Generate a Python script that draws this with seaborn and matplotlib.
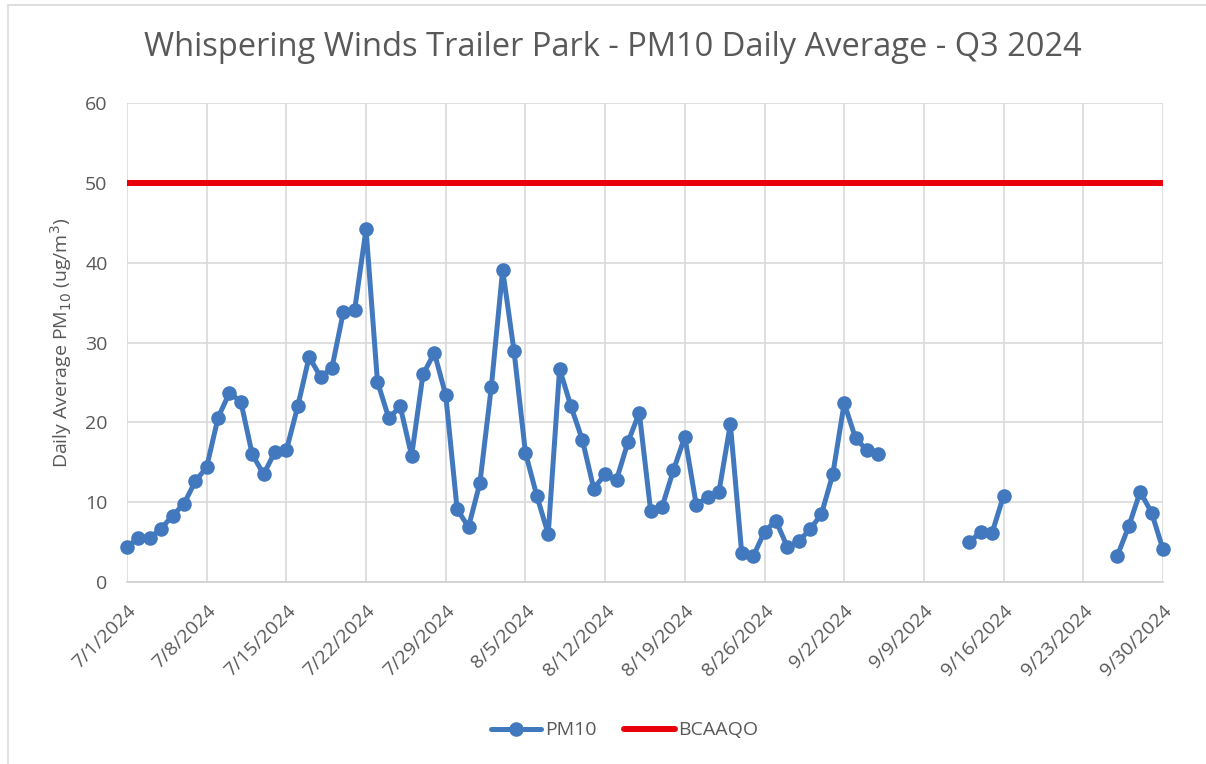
import pandas as pd
import numpy as np
import matplotlib.pyplot as plt
import matplotlib.dates as mdates
import seaborn as sns
from matplotlib.lines import Line2D
from matplotlib.patches import Rectangle

# --- data ---
dates = ['2024-07-01', '2024-07-02', '2024-07-03', '2024-07-04', '2024-07-05', '2024-07-06',
         '2024-07-07', '2024-07-08', '2024-07-09', '2024-07-10', '2024-07-11', '2024-07-12',
         '2024-07-13', '2024-07-14', '2024-07-15', '2024-07-16', '2024-07-17', '2024-07-18',
         '2024-07-19', '2024-07-20', '2024-07-21', '2024-07-22', '2024-07-23', '2024-07-24',
         '2024-07-25', '2024-07-26', '2024-07-27', '2024-07-28', '2024-07-29', '2024-07-30',
         '2024-07-31', '2024-08-01', '2024-08-02', '2024-08-03', '2024-08-04', '2024-08-05',
         '2024-08-06', '2024-08-07', '2024-08-08', '2024-08-09', '2024-08-10', '2024-08-11',
         '2024-08-12', '2024-08-13', '2024-08-14', '2024-08-15', '2024-08-16', '2024-08-17',
         '2024-08-18', '2024-08-19', '2024-08-20', '2024-08-21', '2024-08-22', '2024-08-23',
         '2024-08-24', '2024-08-25', '2024-08-26', '2024-08-27', '2024-08-28', '2024-08-29',
         '2024-08-30', '2024-08-31', '2024-09-01', '2024-09-02', '2024-09-03', '2024-09-04',
         '2024-09-05',
         '2024-09-13', '2024-09-14', '2024-09-15', '2024-09-16',
         '2024-09-26', '2024-09-27', '2024-09-28', '2024-09-29', '2024-09-30']
pm10 = [4.4, 5.5, 5.5, 6.7, 8.3, 9.8,
        12.6, 14.4, 20.6, 23.7, 22.6, 16.0,
        13.5, 16.3, 16.5, 22.0, 28.2, 25.7,
        26.8, 33.8, 34.1, 44.2, 25.1, 20.5,
        22.0, 15.8, 26.0, 28.7, 23.4, 9.1,
        6.9, 12.4, 24.4, 39.1, 28.9, 16.2,
        10.8, 6.0, 26.7, 22.0, 17.8, 11.7,
        13.5, 12.8, 17.5, 21.2, 8.9, 9.4,
        14.0, 18.2, 9.7, 10.6, 11.3, 19.8,
        3.6, 3.2, 6.3, 7.7, 4.4, 5.1,
        6.6, 8.5, 13.5, 22.4, 18.0, 16.5,
        16.0,
        5.0, 6.3, 6.2, 10.8,
        3.3, 7.0, 11.3, 8.7, 4.1]
objective_dates = ['2024-07-01', '2024-09-30']
objective_values = [50, 50]
tick_dates = pd.date_range('2024-07-01', '2024-09-30', freq='7D')

df = pd.DataFrame({'Date': pd.to_datetime(dates), 'PM10': pm10})
# break the line where days are missing
df['segment'] = (df['Date'].diff().dt.days.fillna(1) > 1).cumsum()
obj = pd.DataFrame({'Date': pd.to_datetime(objective_dates), 'BCAAQO': objective_values})

sns.set_style('white')
plt.rcParams['font.family'] = ['Open Sans', 'DejaVu Sans']
grey = '#595959'
blue = '#4279BE'
red = '#E8000B'

fig = plt.figure(figsize=(12.06, 7.64), dpi=100)
ax = fig.add_axes([0.1053, 0.2382, 0.8590, 0.6270])

sns.lineplot(data=obj, x='Date', y='BCAAQO', color=red, linewidth=4.3, ax=ax,
             legend=False, zorder=2)
sns.lineplot(data=df, x='Date', y='PM10', units='segment', estimator=None, color=blue,
             linewidth=3.6, marker='o', markersize=10.5, markeredgewidth=0, ax=ax,
             legend=False, zorder=3, clip_on=False)

ax.set_xlim(pd.Timestamp('2024-07-01'), pd.Timestamp('2024-09-30'))
ax.set_ylim(0, 60)
ax.set_yticks(range(0, 61, 10))
ax.set_xticks(tick_dates)
ax.set_xticklabels([f'{d.month}/{d.day}/{d.year}' for d in tick_dates],
                   rotation=45, ha='right', rotation_mode='anchor')
ax.grid(True, color='#D9D9D9', linewidth=1.2)
for s in ['top', 'right', 'left']:
    ax.spines[s].set_visible(False)
ax.spines['bottom'].set_color('#D0D0D0')
ax.spines['bottom'].set_linewidth(1.2)
ax.tick_params(axis='both', length=0, labelsize=14, labelcolor=grey)
ax.tick_params(axis='x', pad=14)
ax.tick_params(axis='y', pad=14)

ax.set_xlabel('')
ax.set_ylabel('Daily Average PM$_{10}$ (ug/m$^3$)', fontsize=14, color=grey, labelpad=8)
fig.text(0.508, 0.938, 'Whispering Winds Trailer Park - PM10 Daily Average - Q3 2024',
         ha='center', va='center', fontsize=23.5, color=grey)

handles = [Line2D([], [], color=blue, linewidth=3.6, marker='o', markersize=10.5,
                  markeredgewidth=0),
           Line2D([], [], color=red, linewidth=4.3)]
fig.legend(handles, ['PM10', 'BCAAQO'], loc='center', bbox_to_anchor=(0.518, 0.044),
           ncol=2, frameon=False, fontsize=14, labelcolor=grey, handlelength=2.6,
           handletextpad=0.2, columnspacing=1.4)

# chart area border
fig.patches.append(Rectangle((8 / 1206, -0.01), 1.2, 1 - 5 / 764 + 0.01,
                             transform=fig.transFigure, fill=False,
                             edgecolor='#D9D9D9', linewidth=1.2))

plt.savefig('out.png', dpi=100)
